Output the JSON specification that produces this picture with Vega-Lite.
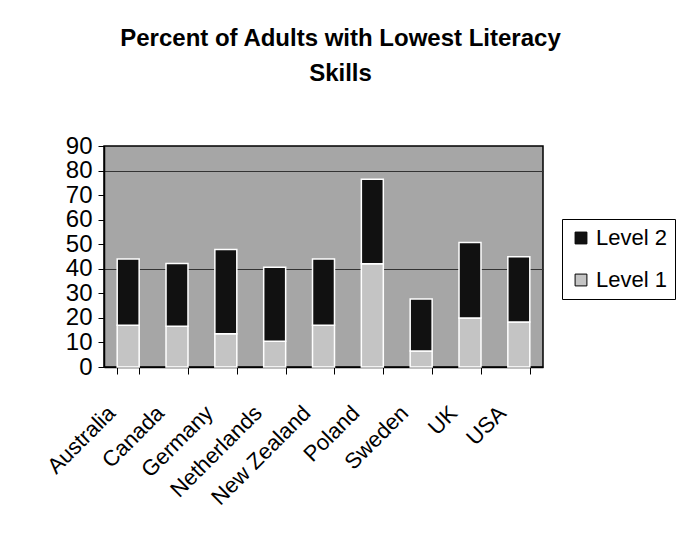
{
  "$schema": "https://vega.github.io/schema/vega-lite/v6.json",
  "width": 439,
  "height": 221,
  "autosize": {"type": "none"},
  "padding": {"left": 104, "top": 146, "right": 135, "bottom": 176},
  "background": "white",
  "title": {
    "text": ["Percent of Adults with Lowest Literacy", "Skills"],
    "font": "Liberation Sans",
    "fontSize": 24,
    "fontWeight": "bold",
    "lineHeight": 35,
    "color": "black",
    "anchor": "middle",
    "dx": 17,
    "offset": 48
  },
  "config": {
    "view": {"fill": "#a6a6a6", "stroke": "black", "strokeWidth": 1.5},
    "font": "Liberation Sans"
  },
  "data": {
    "values": [
      {"country": "Australia", "level": "Level 1", "value": 17},
      {"country": "Australia", "level": "Level 2", "value": 27},
      {"country": "Canada", "level": "Level 1", "value": 16.6},
      {"country": "Canada", "level": "Level 2", "value": 25.6},
      {"country": "Germany", "level": "Level 1", "value": 13.5},
      {"country": "Germany", "level": "Level 2", "value": 34.4},
      {"country": "Netherlands", "level": "Level 1", "value": 10.5},
      {"country": "Netherlands", "level": "Level 2", "value": 30.1},
      {"country": "New Zealand", "level": "Level 1", "value": 17},
      {"country": "New Zealand", "level": "Level 2", "value": 27},
      {"country": "Poland", "level": "Level 1", "value": 42},
      {"country": "Poland", "level": "Level 2", "value": 34.5},
      {"country": "Sweden", "level": "Level 1", "value": 6.5},
      {"country": "Sweden", "level": "Level 2", "value": 21.2},
      {"country": "UK", "level": "Level 1", "value": 20},
      {"country": "UK", "level": "Level 2", "value": 30.7},
      {"country": "USA", "level": "Level 1", "value": 18.3},
      {"country": "USA", "level": "Level 2", "value": 26.6}
    ]
  },
  "mark": {"type": "bar", "stroke": "white", "strokeWidth": 1.5},
  "encoding": {
    "x": {
      "field": "country",
      "type": "nominal",
      "sort": null,
      "scale": {"paddingInner": 0.55, "paddingOuter": 0.27},
      "axis": {
        "title": null,
        "labelAngle": -45,
        "labelAlign": "right",
        "labelBaseline": "top",
        "labelFontSize": 22,
        "labelColor": "black",
        "labelPadding": 28,
        "labelOffset": -24,
        "tickBand": "extent",
        "tickColor": "black",
        "tickSize": 7,
        "domainColor": "black",
        "domainWidth": 1.5,
        "grid": false
      }
    },
    "y": {
      "field": "value",
      "type": "quantitative",
      "aggregate": "sum",
      "stack": "zero",
      "scale": {"domain": [0, 90], "nice": false},
      "axis": {
        "title": null,
        "values": [0, 10, 20, 30, 40, 50, 60, 70, 80, 90],
        "labelFontSize": 24,
        "labelColor": "black",
        "labelPadding": 6,
        "tickColor": "black",
        "tickSize": 6,
        "domainColor": "black",
        "domainWidth": 1.5,
        "grid": true,
        "gridColor": "#333333",
        "gridWidth": 1,
        "gridOpacity": {"condition": {"test": "datum.value == 40 || datum.value == 80", "value": 1}, "value": 0}
      }
    },
    "color": {
      "field": "level",
      "type": "nominal",
      "scale": {"domain": ["Level 2", "Level 1"], "range": ["#111111", "#c4c4c4"]},
      "legend": {
        "title": null,
        "orient": "none",
        "legendX": 458,
        "legendY": 73,
        "labelFontSize": 22,
        "labelColor": "black",
        "labelOffset": 4,
        "symbolType": "square",
        "symbolSize": 140,
        "symbolStrokeColor": "black",
        "symbolStrokeWidth": 1,
        "rowPadding": 20,
        "padding": 8,
        "strokeColor": "black",
        "fillColor": "white",
        "labelLimit": 200
      }
    },
    "order": {"field": "level", "sort": "ascending"}
  }
}
